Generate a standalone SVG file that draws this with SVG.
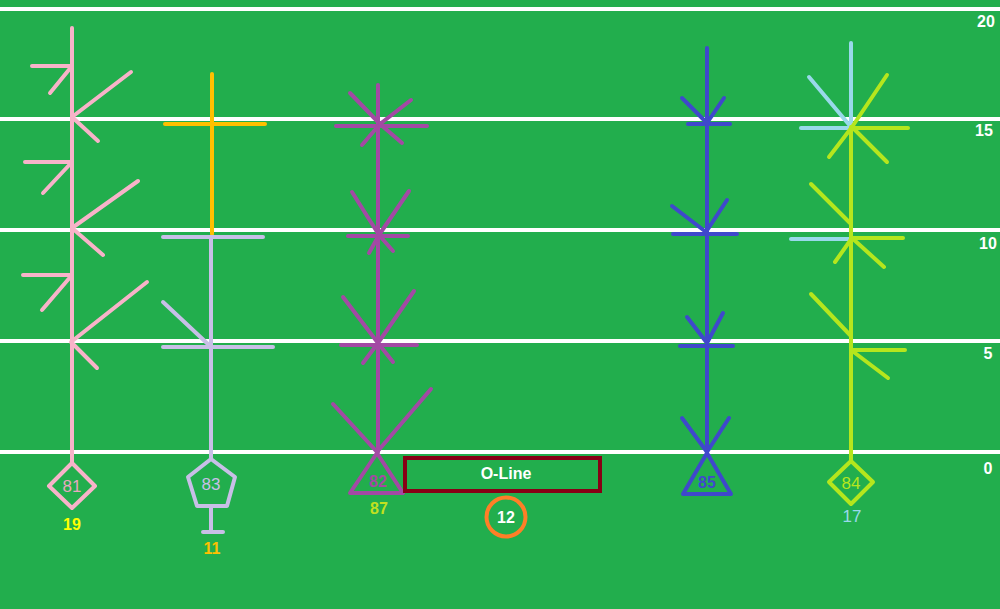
<svg xmlns="http://www.w3.org/2000/svg" width="1000" height="609" viewBox="0 0 1000 609">
<style>
.yl{stroke:#fff;stroke-width:4}
.yn{fill:#fff;font:bold 16px "Liberation Sans",Arial,sans-serif;text-anchor:middle}
.r{fill:none;stroke-width:4;stroke-linecap:round;stroke-linejoin:round}
.pk{stroke:#F8B3C9}.lv{stroke:#C8BFE7}.gd{stroke:#FFC000}.pu{stroke:#A349A4}.bl{stroke:#3F48CC}.lm{stroke:#B5E61D}.lb{stroke:#99D9EA}
.nt{font:17px "Liberation Sans",Arial,sans-serif;text-anchor:middle}
.lt{font:bold 16px "Liberation Sans",Arial,sans-serif;text-anchor:middle}
</style>
<rect width="1000" height="609" fill="#22AE4D"/>
<g id="field">
<line class="yl" x1="0" y1="9" x2="1000" y2="9"/>
<line class="yl" x1="0" y1="119" x2="1000" y2="119"/>
<line class="yl" x1="0" y1="230" x2="1000" y2="230"/>
<line class="yl" x1="0" y1="341" x2="1000" y2="341"/>
<line class="yl" x1="0" y1="452" x2="1000" y2="452"/>
<text class="yn" x="986" y="27">20</text>
<text class="yn" x="984" y="136">15</text>
<text class="yn" x="988" y="249">10</text>
<text class="yn" x="988" y="359">5</text>
<text class="yn" x="988" y="474">0</text>
</g>
<g id="connectors">
<g id="route81" class="r pk">
<path d="M72 28V463"/>
<path d="M32 66H72L50 93"/>
<path d="M131 72L72 117L98 141"/>
<path d="M25 162H72L43 193"/>
<path d="M138 181L72 228L103 255"/>
<path d="M23 275H72L42 310"/>
<path d="M147 282L71 342L97 368"/>
</g>
<g id="route11" class="r gd">
<path d="M212 74V234"/>
<path d="M165 124H265"/>
</g>
<g id="route83" class="r lv">
<path d="M211 237V459"/>
<path d="M163 237H263"/>
<path d="M163 347H273"/>
<path d="M163 302L210 346"/>
</g>
<g id="route82" class="r pu">
<path d="M378 85V452"/>
<path d="M336 126H427"/>
<path d="M350 93L380 124L362 145"/>
<path d="M411 100L380 124L402 143"/>
<path d="M348 236H408"/>
<path d="M352 192L379 235L369 253"/>
<path d="M409 191L379 235L393 251"/>
<path d="M341 345H417"/>
<path d="M343 297L378 343L363 363"/>
<path d="M414 291L378 343L393 362"/>
<path d="M333 404L377 452L431 389"/>
</g>
<g id="route85" class="r bl">
<path d="M707 48V453"/>
<path d="M688 124H730"/>
<path d="M682 98L707 123L724 98"/>
<path d="M673 234H737"/>
<path d="M672 206L706 232L727 200"/>
<path d="M680 346H733"/>
<path d="M687 317L707 343L723 313"/>
<path d="M682 418L707 452L729 418"/>
</g>
<g id="route17" class="r lb">
<path d="M851 43V127"/>
<path d="M801 128H851"/>
<path d="M809 77L851 127"/>
<path d="M791 239H851"/>
</g>
<g id="route84" class="r lm">
<path d="M851 127V461"/>
<path d="M852 128H908"/>
<path d="M887 75L852 127L829 157"/>
<path d="M852 127L887 162"/>
<path d="M811 184L850 223"/>
<path d="M852 238H903"/>
<path d="M835 262L852 238L884 267"/>
<path d="M811 294L850 335"/>
<path d="M851 350H905"/>
<path d="M851 350L888 378"/>
</g>
</g>
<g id="p81">
<path class="r pk" d="M72 463L95 486L72 508L49 486Z"/>
<text class="nt" x="72" y="492" fill="#E8A8C0">81</text>
<text class="lt" x="72" y="530" fill="#FFFF00">19</text>
</g>
<g id="p83">
<path class="r lv" d="M211 459L235 477L227 506H197L188 477Z"/>
<path class="r lv" d="M211 506V532M203 532H223"/>
<text class="nt" x="211" y="490" fill="#C8BFE7">83</text>
<text class="lt" x="212" y="554" fill="#FFC000">11</text>
</g>
<g id="p82">
<path class="r pu" d="M377 453L403 493H350Z"/>
<text class="lt" x="378" y="487" fill="#A349A4">82</text>
<text class="lt" x="379" y="514" fill="#C0E020">87</text>
</g>
<g id="oline">
<rect x="405" y="458" width="195" height="33" fill="none" stroke="#880015" stroke-width="4"/>
<text class="lt" x="506" y="479" fill="#fff">O-Line</text>
</g>
<g id="p12">
<circle cx="506" cy="517" r="19.5" fill="none" stroke="#FF7F27" stroke-width="4"/>
<text class="lt" x="506" y="523" fill="#fff">12</text>
</g>
<g id="p85">
<path class="r bl" d="M707 453L731 494H683Z"/>
<text class="lt" x="707" y="488" fill="#3F48CC">85</text>
</g>
<g id="p84">
<path class="r lm" d="M851 461L873 482L851 504L829 482Z"/>
<text class="nt" x="851" y="489" fill="#B5E61D">84</text>
<text class="nt" x="852" y="522" fill="#99D9EA">17</text>
</g>
</svg>
